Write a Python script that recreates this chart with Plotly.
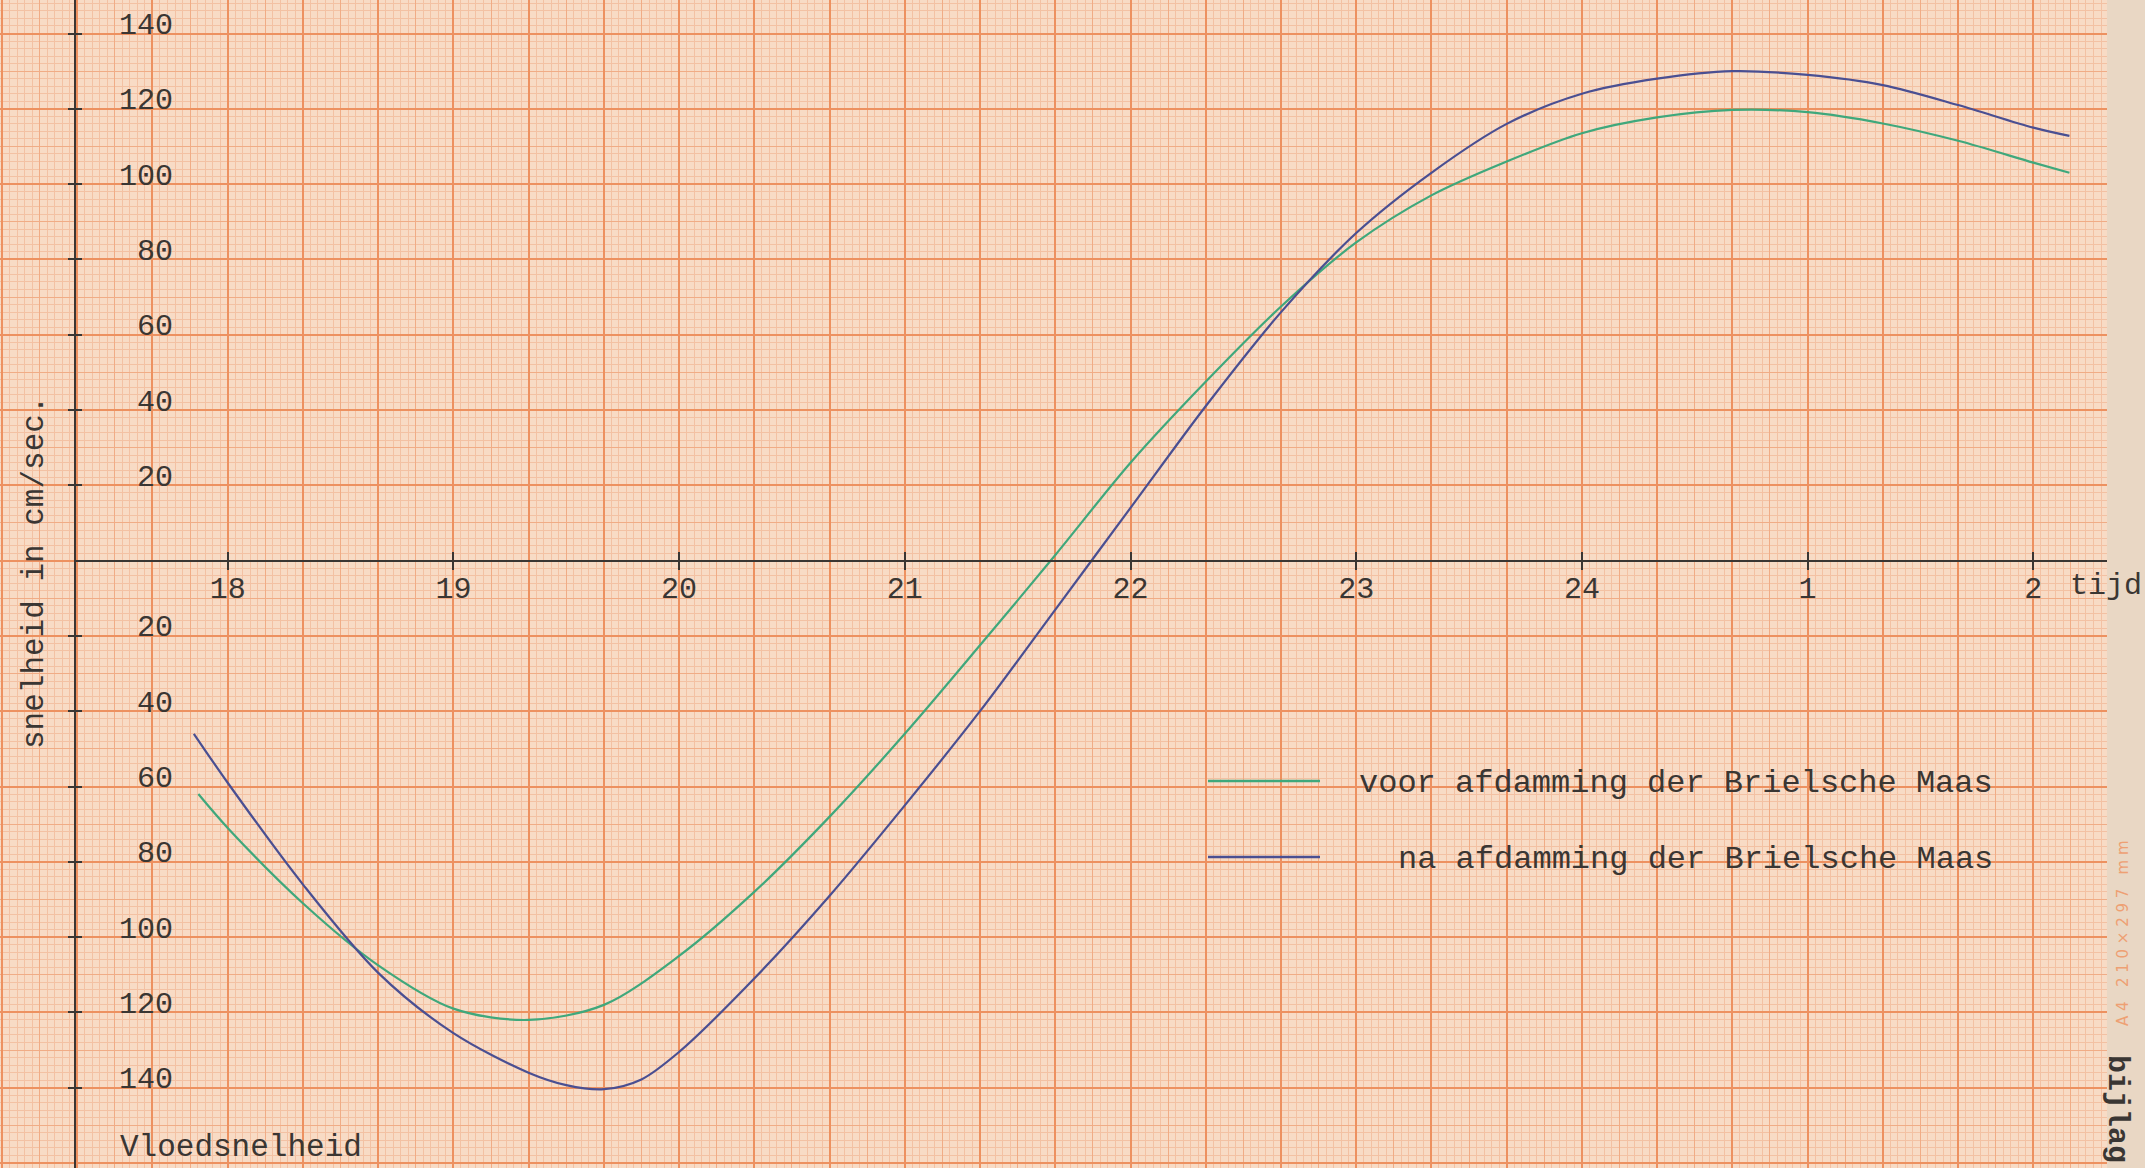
import plotly.graph_objects as go

# ---------------- data ----------------
uur_tickvals = [18, 19, 20, 21, 22, 23, 24, 25, 26]
uur_ticktext = ["18", "19", "20", "21", "22", "23", "24", "1", "2"]

snelheid_tickvals = [140, 120, 100, 80, 60, 40, 20, -20, -40, -60, -80, -100, -120, -140]
snelheid_ticktext = ["140", "120", "100", "80", "60", "40", "20",
                     "20", "40", "60", "80", "100", "120", "140"]

tijd_voor = [17.87, 18.0, 18.333, 18.667, 19.0, 19.333, 19.667, 20.0, 20.333,
             20.667, 21.0, 21.333, 21.667, 22.0, 22.333, 22.667, 23.0, 23.333,
             23.667, 24.0, 24.333, 24.667, 25.0, 25.333, 25.667, 26.0, 26.16]
snelheid_voor = [-62, -71, -91, -107.5, -119, -122, -118, -105, -88,
                 -68, -46, -22.5, 1.5, 26, 47.5, 67.5, 84.5, 97,
                 106, 113.5, 117.7, 119.7, 119.1, 116.1, 111.5, 105.7, 103]

tijd_na = [17.85, 18.0, 18.333, 18.667, 19.0, 19.333, 19.5, 19.667, 19.833, 20.0, 20.333,
           20.667, 21.0, 21.333, 21.667, 22.0, 22.333, 22.667, 23.0, 23.333,
           23.667, 24.0, 24.333, 24.667, 25.0, 25.333, 25.667, 26.0, 26.16]
snelheid_na = [-46, -59, -86, -109.5, -125.5, -136, -139.3, -140.4, -137.8, -130.5, -111,
               -89, -65, -40, -13, 14, 41, 66, 87, 103,
               116, 124, 128, 130, 129, 126.3, 121, 115, 112.8]

naam_voor = "voor afdamming der Brielsche Maas"
naam_na = "na afdamming der Brielsche Maas"

# ---------------- layout geometry ----------------
W, H = 2145, 1168
MR = 38                      # beige paper margin at the right
PW = W - MR                  # plot width in px
PX_PER_HOUR = 225.7
X_T18 = 227.7                # px of t = 18
Y_ZERO = 560.6               # px of v = 0
PX_PER_UNIT = 3.765
YAX_PX = 76                  # px of vertical axis

def t_at(px):
    return 18 + (px - X_T18) / PX_PER_HOUR

def v_at(py):
    return (Y_ZERO - py) / PX_PER_UNIT

X0, X1 = t_at(0), t_at(PW)
XA = t_at(YAX_PX)
Y0, Y1 = v_at(H), v_at(0)

INK = "#3a3633"
FONT = "Liberation Mono, DejaVu Sans Mono, monospace"
GREEN = "#3fa87c"
BLUE = "#4a4f92"
PEACH = "#f8dbc5"
BEIGE = "#e9d7c4"

fig = go.Figure()

# invisible traces so that the graph-paper subplots are drawn
fig.add_trace(go.Scatter(x=[None], y=[None], xaxis="x", yaxis="y",
                         showlegend=False, hoverinfo="skip"))
fig.add_trace(go.Scatter(x=[None], y=[None], xaxis="x2", yaxis="y2",
                         showlegend=False, hoverinfo="skip"))
fig.add_trace(go.Scatter(x=[None], y=[None], xaxis="x4", yaxis="y4",
                         showlegend=False, hoverinfo="skip"))

fig.add_trace(go.Scatter(x=tijd_voor, y=snelheid_voor, xaxis="x3", yaxis="y3",
                         mode="lines", line=dict(color=GREEN, width=2.2, shape="spline", smoothing=0.9),
                         name=naam_voor, showlegend=False, hoverinfo="skip"))
fig.add_trace(go.Scatter(x=tijd_na, y=snelheid_na, xaxis="x3", yaxis="y3",
                         mode="lines", line=dict(color=BLUE, width=2.2, shape="spline", smoothing=0.9),
                         name=naam_na, showlegend=False, hoverinfo="skip"))

hidden = dict(showticklabels=False, ticks="", showline=False, zeroline=False)

fig.update_layout(
    width=W, height=H, autosize=False,
    margin=dict(l=0, r=MR, t=0, b=0, pad=0),
    paper_bgcolor=PEACH,
    plot_bgcolor="rgba(0,0,0,0)",
    showlegend=False,
    # fine (1 mm) + medium (5 mm) grid
    xaxis=dict(domain=[0, 1], range=[X0, X1], anchor="y",
               tick0=18, dtick=1/6, showgrid=True, gridcolor="#f0ac86", gridwidth=1.2,
               minor=dict(tick0=18, dtick=1/30, showgrid=True, gridcolor="#f3c1a3", gridwidth=1),
               **hidden),
    yaxis=dict(domain=[0, 1], range=[Y0, Y1], anchor="x",
               tick0=0, dtick=10, showgrid=True, gridcolor="#f0ac86", gridwidth=1.2,
               minor=dict(tick0=0, dtick=2, showgrid=True, gridcolor="#f3c1a3", gridwidth=1),
               **hidden),
    # heavy (1 cm) grid
    xaxis2=dict(domain=[0, 1], range=[X0, X1], anchor="y2",
                tick0=18, dtick=1/3, showgrid=True, gridcolor="#ed9160", gridwidth=1.6, **hidden),
    yaxis2=dict(domain=[0, 1], range=[Y0, Y1], anchor="x2",
                tick0=0, dtick=20, showgrid=True, gridcolor="#ed9160", gridwidth=1.6, **hidden),
    # data axes
    xaxis3=dict(domain=[YAX_PX / PW, 1], range=[XA, X1], anchor="free",
                position=(H - Y_ZERO) / H,
                showgrid=False, zeroline=False, showline=True, linecolor=INK, linewidth=2,
                tickmode="array", tickvals=uur_tickvals, ticktext=uur_ticktext,
                ticks="inside", ticklen=8, tickwidth=2, tickcolor=INK,
                tickfont=dict(family=FONT, size=30, color=INK), ticklabelstandoff=0),
    yaxis3=dict(domain=[0, 1], range=[Y0, Y1], anchor="x3",
                showgrid=False, zeroline=False, showline=True, linecolor=INK, linewidth=2,
                tickmode="array", tickvals=snelheid_tickvals,
                ticktext=[s.rjust(3, "\u00a0") for s in snelheid_ticktext],
                ticks="outside", ticklen=6, tickwidth=2, tickcolor=INK,
                ticklabelposition="inside", ticklabelstandoff=46, ticklabelshift=-10,
                tickfont=dict(family=FONT, size=30, color=INK)),
    # other halves of the tick marks
    xaxis4=dict(overlaying="x3", range=[XA, X1], anchor="free", position=(H - Y_ZERO) / H,
                showgrid=False, zeroline=False, showline=False, showticklabels=False,
                tickmode="array", tickvals=uur_tickvals,
                ticks="outside", ticklen=8, tickwidth=2, tickcolor=INK),
    yaxis4=dict(overlaying="y3", range=[Y0, Y1], anchor="x4",
                showgrid=False, zeroline=False, showline=False, showticklabels=False,
                tickmode="array", tickvals=snelheid_tickvals,
                ticks="inside", ticklen=6, tickwidth=2, tickcolor=INK),
)

def fx(px):
    return px / PW

def fy(py):
    return 1 - py / H

ann = []
ann.append(dict(text="snelheid in cm/sec.", x=fx(34), y=fy(573), textangle=-90,
                xanchor="center", yanchor="middle"))
ann.append(dict(text="Vloedsnelheid", x=fx(118), y=fy(1167), xanchor="left", yanchor="bottom"))
ann.append(dict(text="tijd", x=fx(2068), y=fy(586), xanchor="left", yanchor="middle",
                font=dict(family=FONT, size=30, color=INK)))
ann.append(dict(text=naam_voor, x=fx(1995), y=fy(783), xanchor="right", yanchor="middle",
                font=dict(family=FONT, size=32, color=INK)))
ann.append(dict(text=naam_na, x=fx(1995), y=fy(860), xanchor="right", yanchor="middle",
                font=dict(family=FONT, size=32, color=INK)))
ann.append(dict(text="A 4\u00a0\u00a0 2 1 0 × 2 9 7\u00a0\u00a0 m m", x=fx(2123), y=fy(933), textangle=-90,
                xanchor="center", yanchor="middle",
                font=dict(family="DejaVu Sans, sans-serif", size=15, color="#eea073")))
ann.append(dict(text="<b>bijlag</b>", x=fx(2117), y=fy(1053), textangle=90,
                xanchor="center", yanchor="top",
                font=dict(family=FONT, size=30, color=INK)))

for a in ann:
    a.setdefault("font", dict(family=FONT, size=31, color=INK))
    a.update(xref="paper", yref="paper", showarrow=False)
fig.update_layout(annotations=ann)

fig.update_layout(shapes=[
    # beige paper margin beyond the graph paper
    dict(type="rect", xref="paper", yref="paper", x0=1, x1=W / PW, y0=0, y1=1,
         fillcolor=BEIGE, line=dict(width=0), layer="below"),
    # legend keys
    dict(type="line", xref="paper", yref="paper", x0=fx(1208), x1=fx(1320),
         y0=fy(781), y1=fy(781), line=dict(color=GREEN, width=2.5)),
    dict(type="line", xref="paper", yref="paper", x0=fx(1208), x1=fx(1320),
         y0=fy(857), y1=fy(857), line=dict(color=BLUE, width=2.5)),
])

fig.write_html("out.html", config={"displayModeBar": False},
               post_script="document.body.style.margin='0';document.body.style.overflow='hidden';")
